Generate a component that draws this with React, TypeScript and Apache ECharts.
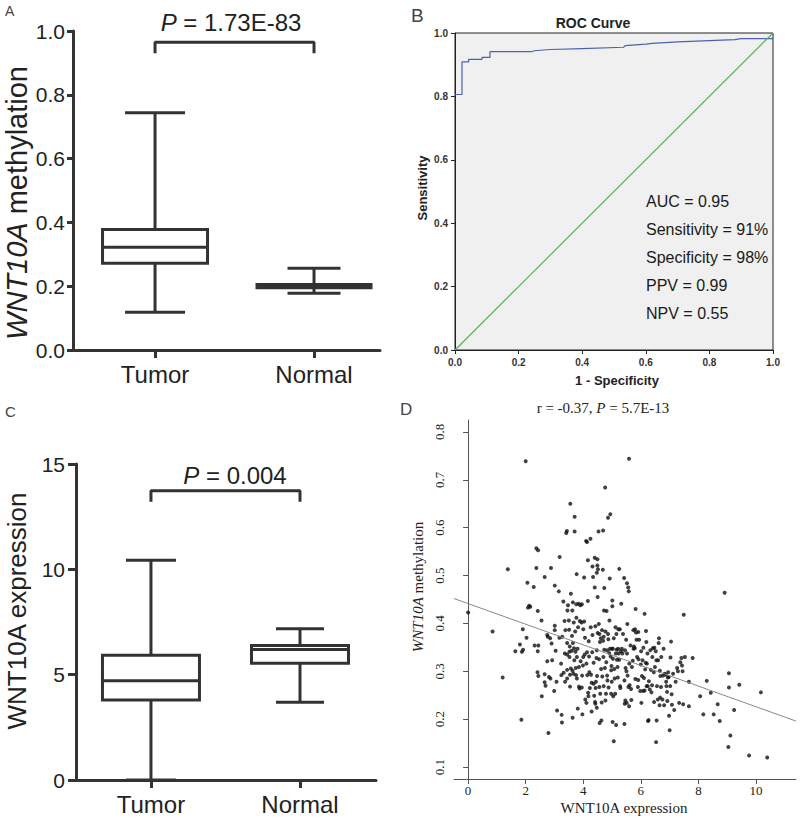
import React, { useEffect, useRef } from "react";
import * as echarts from "echarts";

const SANS = "Liberation Sans, Arial, Helvetica, sans-serif";
const SERIF = "Liberation Serif, Times New Roman, serif";

// Panels A & C: groups and five-number summaries [min, Q1, median, Q3, max]
const groups = ["Tumor", "Normal"];
const methylTumor = [0.118, 0.272, 0.322, 0.378, 0.744];
const methylNormal = [0.178, 0.195, 0.2, 0.205, 0.256];
const exprTumor = [0, 3.8, 4.71, 5.92, 10.43];
const exprNormal = [3.69, 5.54, 6.2, 6.39, 7.18];
const pMethyl = "1.73E-83";
const pExpr = "0.004";

// Panel B: ROC curve
const rocCurve = [
  [0, 0.806], [0.022, 0.806], [0.022, 0.909], [0.043, 0.909], [0.043, 0.917],
  [0.085, 0.917], [0.085, 0.923], [0.11, 0.923], [0.11, 0.941], [0.24, 0.941],
  [0.25, 0.944], [0.3, 0.948], [0.4, 0.951], [0.53, 0.955], [0.535, 0.96],
  [0.6, 0.965], [0.62, 0.967], [0.7, 0.972], [0.78, 0.975], [0.88, 0.979],
  [0.9, 0.982], [1.0, 0.982],
];
const rocDiagonal = [[0, 0], [1, 1]];
const rocStatNames = ["AUC", "Sensitivity", "Specificity", "PPV", "NPV"];
const rocStatValues = ["0.95", "91%", "98%", "0.99", "0.55"];

// Panel D: expression (x) vs methylation (y)
const scatterPoints = [
  [0, 0.423], [0.85, 0.383], [1.2, 0.287], [1.38, 0.513], [1.64, 0.342], [1.8, 0.356], [1.87, 0.341], [1.9, 0.388],
  [1.85, 0.199], [1.91, 0.345], [2.03, 0.37], [2.0, 0.739], [2.06, 0.485], [2.08, 0.433], [2.12, 0.437], [2.16, 0.435],
  [2.28, 0.476], [2.31, 0.354], [2.37, 0.516], [2.37, 0.557], [2.43, 0.553], [2.42, 0.426], [2.44, 0.354], [2.42, 0.342],
  [2.41, 0.298], [2.44, 0.29], [2.55, 0.406], [2.56, 0.248], [2.66, 0.497], [2.66, 0.294], [2.66, 0.277], [2.69, 0.27],
  [2.75, 0.376], [2.75, 0.321], [2.77, 0.372], [2.79, 0.171], [2.81, 0.288], [2.85, 0.369], [2.88, 0.516], [2.92, 0.323],
  [2.9, 0.358], [2.86, 0.285], [2.99, 0.259], [3.01, 0.479], [3.01, 0.386], [3.01, 0.395], [3.04, 0.343], [3.07, 0.278],
  [3.09, 0.218], [3.15, 0.467], [3.17, 0.37], [3.18, 0.539], [3.23, 0.316], [3.25, 0.209], [3.26, 0.193], [3.27, 0.372],
  [3.24, 0.292], [3.31, 0.446], [3.32, 0.297], [3.35, 0.405], [3.36, 0.337], [3.37, 0.278], [3.38, 0.386], [3.41, 0.589],
  [3.43, 0.593], [3.44, 0.359], [3.44, 0.335], [3.44, 0.303], [3.44, 0.285], [3.45, 0.427], [3.47, 0.438], [3.5, 0.406],
  [3.51, 0.387], [3.52, 0.341], [3.52, 0.33], [3.53, 0.352], [3.54, 0.293], [3.54, 0.268], [3.55, 0.65], [3.57, 0.462],
  [3.57, 0.306], [3.6, 0.343], [3.61, 0.374], [3.62, 0.427], [3.63, 0.301], [3.63, 0.203], [3.64, 0.444], [3.64, 0.359],
  [3.66, 0.295], [3.67, 0.402], [3.68, 0.348], [3.69, 0.323], [3.7, 0.623], [3.7, 0.592], [3.72, 0.383], [3.73, 0.341],
  [3.74, 0.307], [3.75, 0.292], [3.76, 0.44], [3.76, 0.412], [3.77, 0.503], [3.78, 0.33], [3.78, 0.285], [3.8, 0.347],
  [3.81, 0.222], [3.82, 0.392], [3.84, 0.441], [3.85, 0.309], [3.85, 0.268], [3.87, 0.264], [3.88, 0.405], [3.9, 0.438],
  [3.91, 0.321], [3.94, 0.402], [3.95, 0.44], [3.95, 0.266], [3.96, 0.291], [3.97, 0.21], [3.99, 0.312], [4.0, 0.33],
  [4.0, 0.388], [4.03, 0.496], [4.03, 0.404], [4.05, 0.335], [4.06, 0.37], [4.07, 0.241], [4.1, 0.572], [4.11, 0.316],
  [4.11, 0.234], [4.13, 0.57], [4.13, 0.34], [4.14, 0.292], [4.16, 0.532], [4.16, 0.447], [4.17, 0.255], [4.18, 0.248],
  [4.19, 0.363], [4.2, 0.331], [4.21, 0.298], [4.23, 0.265], [4.25, 0.577], [4.26, 0.392], [4.27, 0.293], [4.29, 0.276],
  [4.29, 0.216], [4.31, 0.34], [4.32, 0.376], [4.32, 0.519], [4.34, 0.497], [4.36, 0.318], [4.36, 0.274], [4.38, 0.249],
  [4.4, 0.537], [4.4, 0.475], [4.41, 0.236], [4.42, 0.232], [4.42, 0.394], [4.43, 0.265], [4.44, 0.278], [4.46, 0.328],
  [4.47, 0.506], [4.47, 0.344], [4.47, 0.224], [4.48, 0.29], [4.49, 0.534], [4.49, 0.521], [4.5, 0.455], [4.5, 0.38],
  [4.51, 0.513], [4.53, 0.592], [4.54, 0.399], [4.55, 0.325], [4.56, 0.378], [4.56, 0.267], [4.57, 0.192], [4.58, 0.361],
  [4.59, 0.253], [4.61, 0.369], [4.62, 0.305], [4.63, 0.197], [4.64, 0.235], [4.65, 0.386], [4.66, 0.289], [4.68, 0.512],
  [4.69, 0.594], [4.69, 0.364], [4.7, 0.33], [4.71, 0.372], [4.71, 0.269], [4.72, 0.427], [4.73, 0.474], [4.73, 0.345],
  [4.75, 0.307], [4.76, 0.684], [4.77, 0.383], [4.77, 0.239], [4.79, 0.253], [4.8, 0.319], [4.81, 0.426], [4.83, 0.344],
  [4.83, 0.291], [4.84, 0.281], [4.86, 0.621], [4.86, 0.378], [4.87, 0.367], [4.88, 0.266], [4.9, 0.338], [4.91, 0.406],
  [4.92, 0.494], [4.93, 0.347], [4.94, 0.628], [4.95, 0.331], [4.97, 0.302], [4.97, 0.253], [4.98, 0.311], [4.99, 0.347],
  [4.99, 0.278], [5.01, 0.448], [5.01, 0.436], [5.02, 0.194], [5.03, 0.326], [5.03, 0.347], [5.04, 0.248], [5.06, 0.154],
  [5.06, 0.369], [5.08, 0.305], [5.09, 0.285], [5.11, 0.253], [5.12, 0.392], [5.13, 0.337], [5.14, 0.188], [5.15, 0.378],
  [5.16, 0.345], [5.17, 0.324], [5.19, 0.309], [5.2, 0.287], [5.21, 0.347], [5.22, 0.388], [5.23, 0.337], [5.25, 0.514],
  [5.25, 0.324], [5.27, 0.388], [5.28, 0.269], [5.29, 0.265], [5.31, 0.342], [5.32, 0.441], [5.34, 0.347], [5.36, 0.337],
  [5.38, 0.378], [5.42, 0.495], [5.43, 0.19], [5.43, 0.281], [5.44, 0.232], [5.45, 0.344], [5.46, 0.239], [5.47, 0.307],
  [5.49, 0.366], [5.5, 0.3], [5.51, 0.234], [5.52, 0.484], [5.52, 0.337], [5.53, 0.399], [5.54, 0.291], [5.56, 0.475],
  [5.57, 0.267], [5.58, 0.467], [5.59, 0.744], [5.59, 0.227], [5.6, 0.316], [5.61, 0.271], [5.64, 0.354], [5.66, 0.263],
  [5.67, 0.24], [5.69, 0.309], [5.72, 0.322], [5.74, 0.386], [5.75, 0.347], [5.76, 0.352], [5.79, 0.348], [5.8, 0.388],
  [5.81, 0.284], [5.82, 0.43], [5.83, 0.381], [5.85, 0.366], [5.87, 0.33], [5.9, 0.267], [5.91, 0.282], [5.91, 0.382],
  [5.92, 0.325], [5.94, 0.366], [5.98, 0.259], [6.0, 0.314], [6.01, 0.342], [6.02, 0.234], [6.04, 0.29], [6.06, 0.323],
  [6.08, 0.259], [6.09, 0.349], [6.11, 0.286], [6.13, 0.42], [6.13, 0.26], [6.15, 0.304], [6.17, 0.318], [6.18, 0.384],
  [6.19, 0.361], [6.2, 0.269], [6.21, 0.316], [6.23, 0.337], [6.24, 0.269], [6.25, 0.196], [6.27, 0.198], [6.28, 0.279],
  [6.31, 0.262], [6.33, 0.344], [6.35, 0.303], [6.37, 0.256], [6.39, 0.271], [6.4, 0.33], [6.42, 0.348], [6.45, 0.298],
  [6.46, 0.236], [6.47, 0.349], [6.49, 0.309], [6.52, 0.342], [6.53, 0.152], [6.54, 0.323], [6.55, 0.197], [6.56, 0.269],
  [6.59, 0.241], [6.6, 0.323], [6.62, 0.359], [6.63, 0.369], [6.65, 0.229], [6.66, 0.301], [6.67, 0.245], [6.68, 0.29],
  [6.7, 0.267], [6.71, 0.33], [6.75, 0.241], [6.77, 0.291], [6.79, 0.347], [6.81, 0.229], [6.83, 0.295], [6.86, 0.293],
  [6.88, 0.278], [6.89, 0.269], [6.91, 0.257], [6.92, 0.238], [6.94, 0.287], [6.95, 0.298], [6.97, 0.288], [6.98, 0.207],
  [7.0, 0.177], [7.02, 0.269], [7.03, 0.329], [7.05, 0.362], [7.07, 0.252], [7.08, 0.23], [7.12, 0.295], [7.16, 0.219],
  [7.21, 0.278], [7.26, 0.307], [7.29, 0.3], [7.33, 0.234], [7.37, 0.319], [7.41, 0.328], [7.43, 0.312], [7.45, 0.3],
  [7.47, 0.231], [7.49, 0.418], [7.53, 0.33], [7.67, 0.278], [7.67, 0.227], [7.8, 0.328], [8.06, 0.248], [8.17, 0.21],
  [8.29, 0.28], [8.43, 0.255], [8.53, 0.21], [8.67, 0.231], [8.74, 0.196], [8.91, 0.464], [9.04, 0.142], [9.06, 0.266],
  [9.06, 0.296], [9.11, 0.166], [9.24, 0.219], [9.42, 0.272], [9.76, 0.124], [10.17, 0.256], [10.39, 0.12],
];
const fitLine = [[-0.49, 0.452], [11.39, 0.196]];
const corrR = "-0.37";
const corrP = "5.7E-13";
const scatterXTicks = [0, 2, 4, 6, 8, 10];
const scatterYTicks = [0.1, 0.2, 0.3, 0.4, 0.5, 0.6, 0.7, 0.8];

const INK = "#333";

function boxRenderer(boxW: number[], capW: number[]) {
  return (params: any, api: any) => {
    const x = api.value(0);
    const i = params.dataIndex;
    const pt = (v: number) => api.coord([x, v]);
    const cx = pt(api.value(1))[0];
    const yMin = pt(api.value(1))[1];
    const yQ1 = pt(api.value(2))[1];
    const yMed = pt(api.value(3))[1];
    const yQ3 = pt(api.value(4))[1];
    const yMax = pt(api.value(5))[1];
    const bw = boxW[i];
    const cw = capW[i];
    const st = { stroke: INK, lineWidth: 3, fill: null };
    return {
      type: "group",
      children: [
        { type: "line", shape: { x1: cx, y1: yQ3, x2: cx, y2: yMax }, style: st },
        { type: "line", shape: { x1: cx, y1: yQ1, x2: cx, y2: yMin }, style: st },
        { type: "line", shape: { x1: cx - cw / 2, y1: yMax, x2: cx + cw / 2, y2: yMax }, style: st },
        { type: "line", shape: { x1: cx - cw / 2, y1: yMin, x2: cx + cw / 2, y2: yMin }, style: st },
        { type: "rect", shape: { x: cx - bw / 2, y: yQ3, width: bw, height: yQ1 - yQ3 }, style: { stroke: INK, lineWidth: 3, fill: "#fff" } },
        { type: "line", shape: { x1: cx - bw / 2, y1: yMed, x2: cx + bw / 2, y2: yMed }, style: st },
      ],
    };
  };
}

function prismXAxis(gridIndex: number, min: number, max: number) {
  return {
    gridIndex, type: "value", min, max,
    axisLine: { show: true, lineStyle: { color: INK, width: 3 } },
    axisTick: { show: true, customValues: [1, 2], length: 8, lineStyle: { color: INK, width: 3 } },
    axisLabel: {
      customValues: [1, 2], formatter: (v: number) => groups[Math.round(v) - 1] || "",
      fontSize: 24, color: "#222", margin: 12, fontFamily: SANS,
    },
    splitLine: { show: false },
  };
}

export default function App() {
  const ref = useRef<HTMLDivElement>(null);
  useEffect(() => {
    if (!ref.current) return;
    const chart = echarts.init(ref.current, undefined, { renderer: "svg" });
    const labelText = (x: number, y: number, text: string, size: number) => ({
      type: "text", x, y, style: { text, fontSize: size, fontFamily: SANS, fill: "#444" },
    });
    const option: any = {
      animation: false,
      backgroundColor: "#fff",
      grid: [
        { left: 73, top: 31, width: 307, height: 319 },
        { left: 455, top: 33, width: 318, height: 317, show: true, backgroundColor: "#f0f0f0", borderColor: "#222", borderWidth: 1 },
        { left: 76, top: 464, width: 300, height: 316 },
        { left: 454, top: 420, width: 342, height: 359 },
      ],
      xAxis: [
        prismXAxis(0, 0.484, 2.415),
        {
          gridIndex: 1, type: "value", min: 0, max: 1, interval: 0.2,
          axisLine: { show: true, lineStyle: { color: "#222", width: 1 } },
          axisTick: { show: true, length: 4, lineStyle: { color: "#222" } },
          axisLabel: { formatter: (v: number) => v.toFixed(1), fontSize: 10, fontWeight: "bold", color: "#333", margin: 7, fontFamily: SANS },
          splitLine: { show: false },
        },
        prismXAxis(2, 0.497, 2.51),
        {
          gridIndex: 3, type: "value", min: -0.49, max: 11.39,
          axisLine: { show: true, lineStyle: { color: "#555", width: 1 } },
          axisTick: { show: true, customValues: scatterXTicks, length: 5, lineStyle: { color: "#555" } },
          axisLabel: { customValues: scatterXTicks, fontSize: 13, color: "#222", margin: 5, fontFamily: SERIF },
          splitLine: { show: false },
        },
      ],
      yAxis: [
        {
          gridIndex: 0, type: "value", min: 0, max: 1, interval: 0.2,
          axisLine: { show: true, lineStyle: { color: INK, width: 3 } },
          axisTick: { show: true, length: 6, lineStyle: { color: INK, width: 3 } },
          axisLabel: { formatter: (v: number) => v.toFixed(1), fontSize: 21, color: "#222", margin: 8, fontFamily: SANS },
          splitLine: { show: false },
        },
        {
          gridIndex: 1, type: "value", min: 0, max: 1, interval: 0.2,
          axisLine: { show: true, lineStyle: { color: "#222", width: 1 } },
          axisTick: { show: true, length: 4, lineStyle: { color: "#222" } },
          axisLabel: { formatter: (v: number) => v.toFixed(1), fontSize: 10, fontWeight: "bold", color: "#333", margin: 7, fontFamily: SANS },
          splitLine: { show: false },
        },
        {
          gridIndex: 2, type: "value", min: 0, max: 15, interval: 5,
          axisLine: { show: true, lineStyle: { color: INK, width: 3 } },
          axisTick: { show: true, length: 8, lineStyle: { color: INK, width: 3 } },
          axisLabel: { fontSize: 21, color: "#222", margin: 11, fontFamily: SANS },
          splitLine: { show: false },
        },
        {
          gridIndex: 3, type: "value", min: 0.075, max: 0.825,
          axisLine: { show: true, lineStyle: { color: "#555", width: 1 } },
          axisTick: { show: true, customValues: scatterYTicks, length: 5, lineStyle: { color: "#555" } },
          axisLabel: { customValues: scatterYTicks, formatter: (v: number) => v.toFixed(1), rotate: 90, fontSize: 13, color: "#222", margin: 8, fontFamily: SERIF },
          splitLine: { show: false },
        },
      ],
      series: [
        {
          type: "custom", xAxisIndex: 0, yAxisIndex: 0,
          renderItem: boxRenderer([105, 114], [60, 53]),
          encode: { x: 0, y: [1, 2, 3, 4, 5] },
          data: [[1, ...methylTumor], [2, ...methylNormal]],
          clip: false,
        },
        {
          type: "line", xAxisIndex: 0, yAxisIndex: 0, symbol: "none",
          lineStyle: { color: INK, width: 3 },
          data: [[1, 0.93], [1, 0.965], [2, 0.965], [2, 0.93]],
        },
        {
          type: "line", xAxisIndex: 1, yAxisIndex: 1, symbol: "none",
          lineStyle: { color: "#4c62ae", width: 1.2 }, data: rocCurve,
        },
        {
          type: "line", xAxisIndex: 1, yAxisIndex: 1, symbol: "none",
          lineStyle: { color: "#4fb85a", width: 1.2 }, data: rocDiagonal,
        },
        {
          type: "custom", xAxisIndex: 2, yAxisIndex: 2,
          renderItem: boxRenderer([97, 97], [50, 48]),
          encode: { x: 0, y: [1, 2, 3, 4, 5] },
          data: [[1, ...exprTumor], [2, ...exprNormal]],
          clip: false,
        },
        {
          type: "line", xAxisIndex: 2, yAxisIndex: 2, symbol: "none",
          lineStyle: { color: INK, width: 3 },
          data: [[1, 13.21], [1, 13.73], [2, 13.73], [2, 13.21]],
        },
        {
          type: "line", xAxisIndex: 3, yAxisIndex: 3, symbol: "none",
          lineStyle: { color: "#888", width: 1 }, data: fitLine,
        },
        {
          type: "scatter", xAxisIndex: 3, yAxisIndex: 3, symbolSize: 4,
          itemStyle: { color: "#111" }, data: scatterPoints,
        },
      ],
      graphic: [
        labelText(5, 4, "A", 14),
        labelText(411, 6, "B", 19),
        labelText(5, 404, "C", 15),
        labelText(400, 401, "D", 17),
        {
          type: "text", x: 231, y: 22,
          style: {
            text: `{i|P} = ${pMethyl}`, fontSize: 24, fontFamily: SANS, fill: "#222", align: "center", verticalAlign: "middle",
            rich: { i: { fontStyle: "italic", fontSize: 24, fontFamily: SANS, fill: "#222" } },
          },
        },
        {
          type: "text", x: 235, y: 475,
          style: {
            text: `{i|P} = ${pExpr}`, fontSize: 24, fontFamily: SANS, fill: "#222", align: "center", verticalAlign: "middle",
            rich: { i: { fontStyle: "italic", fontSize: 24, fontFamily: SANS, fill: "#222" } },
          },
        },
        {
          type: "text", x: 17, y: 203, rotation: Math.PI / 2,
          style: {
            text: "{i|WNT10A} methylation", fontSize: 29, fontFamily: SANS, fill: "#222", align: "center", verticalAlign: "middle",
            rich: { i: { fontStyle: "italic", fontSize: 29, fontFamily: SANS, fill: "#222" } },
          },
        },
        {
          type: "text", x: 17, y: 611, rotation: Math.PI / 2,
          style: { text: "WNT10A expression", fontSize: 26, fontFamily: SANS, fill: "#222", align: "center", verticalAlign: "middle" },
        },
        {
          type: "text", x: 593, y: 23,
          style: { text: "ROC Curve", fontSize: 14, fontWeight: "bold", fontFamily: SANS, fill: "#222", align: "center", verticalAlign: "middle" },
        },
        {
          type: "text", x: 617, y: 380,
          style: { text: "1 - Specificity", fontSize: 13, fontWeight: "bold", fontFamily: SANS, fill: "#222", align: "center", verticalAlign: "middle" },
        },
        {
          type: "text", x: 422, y: 188, rotation: Math.PI / 2,
          style: { text: "Sensitivity", fontSize: 13, fontWeight: "bold", fontFamily: SANS, fill: "#222", align: "center", verticalAlign: "middle" },
        },
        ...rocStatNames.map((n, i) => ({
          type: "text", x: 646, y: 201 + i * 28,
          style: { text: `${n} = ${rocStatValues[i]}`, fontSize: 16, fontFamily: SANS, fill: "#1a1a1a", align: "left", verticalAlign: "middle" },
        })),
        {
          type: "text", x: 603, y: 408,
          style: {
            text: `r = ${corrR}, {i|P} = ${corrP}`, fontSize: 15, fontFamily: SERIF, fill: "#222", align: "center", verticalAlign: "middle",
            rich: { i: { fontStyle: "italic", fontSize: 15, fontFamily: SERIF, fill: "#222" } },
          },
        },
        {
          type: "text", x: 624, y: 808,
          style: { text: "WNT10A expression", fontSize: 15, fontFamily: SERIF, fill: "#222", align: "center", verticalAlign: "middle" },
        },
        {
          type: "text", x: 418, y: 587, rotation: Math.PI / 2,
          style: {
            text: "{i|WNT10A} methylation", fontSize: 15, fontFamily: SERIF, fill: "#222", align: "center", verticalAlign: "middle",
            rich: { i: { fontStyle: "italic", fontSize: 15, fontFamily: SERIF, fill: "#222" } },
          },
        },
      ],
    };
    chart.setOption(option);
    return () => chart.dispose();
  }, []);
  return (
    <div
      ref={ref}
      style={{ position: "absolute", left: 0, top: 0, width: 800, height: 818, background: "#fff" }}
    />
  );
}
